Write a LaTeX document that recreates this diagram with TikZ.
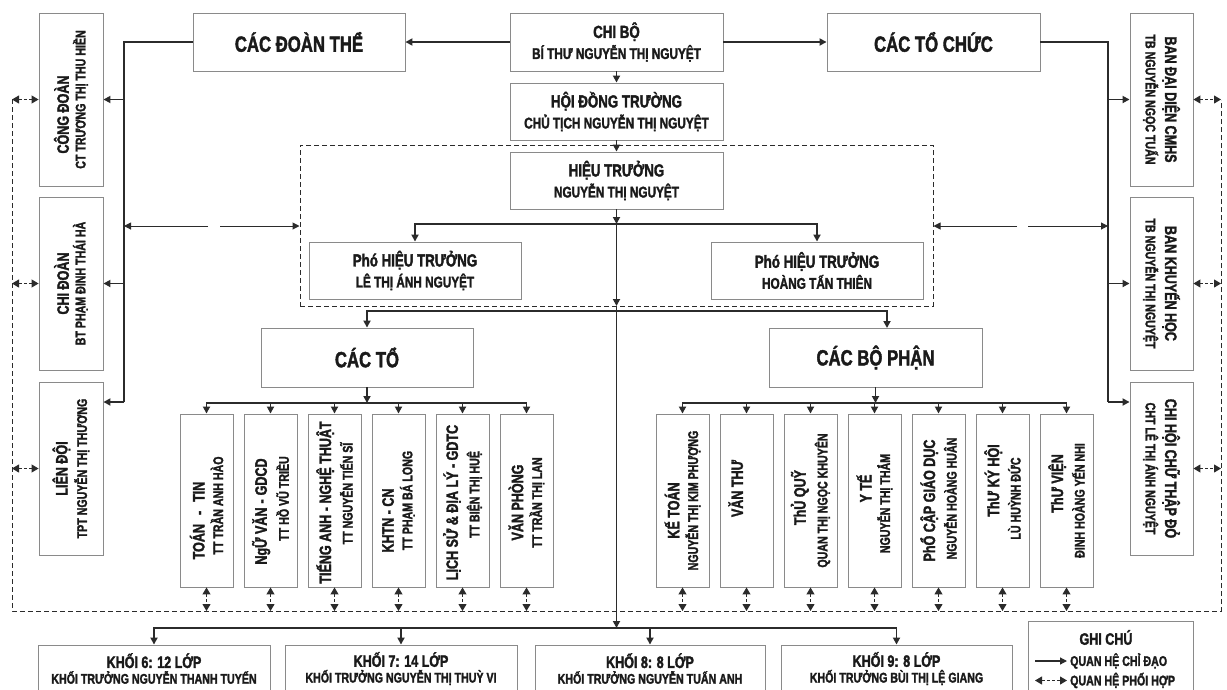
\documentclass[tikz,border=0pt]{standalone}
\usepackage{fontspec}
\setmainfont{Liberation Sans Bold}[FakeStretch=0.76, FakeBold=1.8]
\usetikzlibrary{arrows.meta}
\definecolor{ln}{HTML}{2B2B2B}
\definecolor{bx}{HTML}{8A8A8A}
\definecolor{tx}{HTML}{1A1A1A}
\tikzset{
 box/.style={draw=bx, line width=0.9pt, fill=white, inner sep=0pt, align=center, text=tx},
 conn/.style={draw=ln, line width=1.7pt},
 arr/.style={conn, -{Triangle[length=7pt,width=7pt]}},
 coop/.style={draw=ln, line width=1pt, dash pattern=on 3pt off 2pt, {Triangle[length=7pt,width=8pt]}-{Triangle[length=7pt,width=8pt]}},
 dsh/.style={draw=ln, line width=1pt, dash pattern=on 5pt off 3pt},
 thinarr/.style={draw=ln, line width=1pt, -{Triangle[length=7pt,width=7pt]}},
 lbox/.style={box, rotate=90, minimum width=173, minimum height=64},
 rbox/.style={box, rotate=-90, minimum width=173, minimum height=63},
 sbox/.style={box, rotate=90, minimum width=173, minimum height=53},
 kbox/.style={box, minimum width=232, minimum height=47},
 ltxt/.style={text=tx, inner sep=0pt},
}
\newcommand{\zzA}[1]{{\fontsize{22}{24}\selectfont #1}}
\newcommand{\zzB}[1]{{\fontsize{17.5}{20}\selectfont #1}}
\newcommand{\zzC}[1]{{\fontsize{15.5}{18}\selectfont #1}}
\newcommand{\zzD}[1]{{\fontsize{16.5}{18}\selectfont #1}}
\newcommand{\zzE}[1]{{\fontsize{14}{16}\selectfont #1}}
% shift a line along its own direction (positive: towards its start)
\newcommand{\zsh}[2]{\hbox{\kern-#1pt#2\kern#1pt}}
\begin{document}
\begin{tikzpicture}[x=1pt,y=-1pt]
\useasboundingbox[fill=white] (0,0) rectangle (1227,689);
% management dashed frame
\node[draw=ln, line width=1pt, dash pattern=on 5pt off 3pt, minimum width=633, minimum height=161, inner sep=0pt] (mgmt) at (616.5,225.5) {};
% top row
\node[box, minimum width=212, minimum height=58] (doanthe) at (299,42) {\zzA{CÁC ĐOÀN THỂ}};
\node[box, minimum width=213, minimum height=58] (chibo) at (616.5,42) {\zzB{CHI BỘ}\\[3pt]\zzC{BÍ THƯ NGUYỄN THỊ NGUYỆT}};
\node[box, minimum width=213, minimum height=58] (tochuc) at (933.5,42) {\zzA{CÁC TỔ CHỨC}};
\node[box, minimum width=213, minimum height=57] (hdt) at (616.5,111.5) {\zzB{HỘI ĐỒNG TRƯỜNG}\\[3pt]\zzC{CHỦ TỊCH NGUYỄN THỊ NGUYỆT}};
\node[box, minimum width=213, minimum height=57] (ht) at (616.5,180.5) {\zzB{HIỆU TRƯỞNG}\\[3pt]\zzC{NGUYỄN THỊ NGUYỆT}};
\node[box, minimum width=212, minimum height=57] (pht1) at (415,270.5) {\zzB{Phó HIỆU TRƯỞNG}\\[3pt]\zzC{LÊ THỊ ÁNH NGUYỆT}};
\node[box, minimum width=212, minimum height=57] (pht2) at (817,270.5) {\zzB{Phó HIỆU TRƯỞNG}\\[3pt]\zzC{HOÀNG TẤN THIÊN}};
\node[box, minimum width=212, minimum height=59] (cacto) at (367,357.5) {\zzA{CÁC TỔ}};
\node[box, minimum width=213, minimum height=59] (cacbp) at (875.5,357.5) {\zzA{CÁC BỘ PHẬN}};
% left column
\node[lbox] (cd) at (71,99.5) {\zsh{15}{\zzD{CÔNG ĐOÀN}}\\[3pt]\zzE{CT TRƯƠNG THỊ THU HIỀN}};
\node[lbox] (chidoan) at (71,283.5) {\zzD{CHI ĐOÀN}\\[3pt]\zzE{BT PHẠM ĐINH THÁI HÀ}};
\node[lbox] (ld) at (71,468.5) {\zzD{LIÊN ĐỘI}\\[3pt]\zzE{TPT NGUYỄN THỊ THƯƠNG}};
% right column
\node[rbox] (bdd) at (1161.5,99.5) {\zzD{BAN ĐẠI DIỆN CMHS}\\[3pt]\zzE{TB NGUYỄN NGỌC TUẤN}};
\node[rbox] (bkh) at (1161.5,283.5) {\zzD{BAN KHUYẾN HỌC}\\[3pt]\zzE{TB NGUYỄN THỊ NGUYỆT}};
\node[rbox] (chthd) at (1161.5,468.5) {\zzD{CHI HỘI CHỮ THẬP ĐỎ}\\[3pt]\zzE{CHT LÊ THỊ ÁNH NGUYỆT}};
% to (departments)
\node[sbox] (t1) at (206.5,500.5) {\zsh{20}{\zzD{TOÁN\hspace{9pt}-\hspace{9pt}TIN}}\\[5pt]\zsh{5}{\zzE{TT TRẦN ANH HÀO}}};
\node[sbox] (t2) at (270.5,500.5) {\zsh{11}{\zzD{NgỮ VĂN\hspace{4pt}-\hspace{4pt}GDCD}}\\[5pt]\zsh{-2}{\zzE{TT HỒ VŨ TRIỀU}}};
\node[sbox] (t3) at (334.5,500.5) {\zsh{2}{\zzD{TIẾNG ANH - NGHỆ THUẬT}}\\[5pt]\zsh{-7}{\zzE{TT NGUYỄN TIẾN SĨ}}};
\node[sbox] (t4) at (398.5,500.5) {\zsh{20}{\zzD{KHTN - CN}}\\[5pt]\zzE{TT PHẠM BÁ LONG}};
\node[sbox] (t5) at (462.5,500.5) {\zsh{2}{\zzD{LỊCH SỬ \& ĐỊA LÝ - GDTC}}\\[5pt]\zsh{-6}{\zzE{TT BIỆN THỊ HUỆ}}};
\node[sbox] (t6) at (526.5,500.5) {\zsh{2}{\zzD{VĂN PHÒNG}}\\[5pt]\zsh{2}{\zzE{TT TRẦN THỊ LAN}}};
% bo phan
\node[sbox] (b1) at (682.5,500.5) {\zsh{10}{\zzD{KẾ TOÁN}}\\[5pt]\zzE{NGUYỄN THỊ KIM PHƯỢNG}};
\node[sbox] (b2) at (746.5,500.5) {\zsh{-12}{\zzD{VĂN THƯ}}\\[5pt]\zzE{\strut}};
\node[sbox] (b3) at (810.5,500.5) {\zsh{-3}{\zzD{ThỦ QUỸ}}\\[5pt]\zzE{QUAN THỊ NGỌC KHUYÊN}};
\node[sbox] (b4) at (874.5,500.5) {\zsh{-12}{\zzD{Y TẾ}}\\[5pt]\zsh{3}{\zzE{NGUYỄN THỊ THẮM}}};
\node[sbox] (b5) at (938.5,500.5) {\zzD{PhỔ CẬP GIÁO DỤC}\\[5pt]\zsh{-2}{\zzE{NGUYỄN HOÀNG HUÂN}}};
\node[sbox] (b6) at (1002.5,500.5) {\zsh{-20}{\zzD{ThƯ KÝ HỘI}}\\[5pt]\zsh{-2}{\zzE{LÙ HUỲNH ĐỨC}}};
\node[sbox] (b7) at (1066.5,500.5) {\zsh{-17}{\zzD{ThƯ VIỆN}}\\[5pt]\zzE{ĐINH HOÀNG YẾN NHI}};
% khoi
\node[kbox] (k6) at (154,668.5) {\zzD{KHỐI 6: 12 LỚP}\\[2pt]\zzE{KHỐI TRƯỞNG NGUYỄN THANH TUYẾN}};
\node[kbox] (k7) at (401,668.5) {\zzD{KHỐI 7: 14 LỚP}\\[2pt]\zzE{KHỐI TRƯỞNG NGUYỄN THỊ THUỲ VI}};
\node[kbox, minimum width=230] (k8) at (650,668.5) {\zzD{KHỐI 8: 8 LỚP}\\[2pt]\zzE{KHỐI TRƯỞNG NGUYỄN TUẤN ANH}};
\node[kbox, minimum width=231] (k9) at (896.5,668.5) {\zzD{KHỐI 9: 8 LỚP}\\[2pt]\zzE{KHỐI TRƯỞNG BÙI THỊ LỆ GIANG}};
% legend
\node[box, minimum width=165, minimum height=80] (leg) at (1110.5,661) {};
\node[ltxt] (legt) at (1106,637.5) {\zzD{GHI CHÚ}};
\coordinate (la1) at (1035,661); \coordinate (la2) at (1067,661);
\coordinate (lb1) at (1035,680.5); \coordinate (lb2) at (1067,680.5);
\node[ltxt, anchor=west] (lt1) at (1070,661) {\zzE{QUAN HỆ CHỈ ĐẠO}};
\node[ltxt, anchor=west] (lt2) at (1070,680.5) {\zzE{QUAN HỆ PHỐI HỢP}};
\draw[arr, line width=1.2pt] (la1) -- (la2);
\draw[coop] (lb1) -- (lb2);
% coordinates
\coordinate (lb) at (124,402);
\coordinate (rb) at (1108,402);
\coordinate (otl) at (12,99);
\coordinate (obl) at (12,611);
\coordinate (obr) at (1221,611);
\coordinate (otr) at (1221,100);
\coordinate (j1) at (616.5,224);
\coordinate (j2) at (616.5,306);
\coordinate (j2b) at (616.5,311);
\coordinate (j3) at (616.5,628);
\coordinate (bpin) at (887,328);
\coordinate (tb) at (367,403);
\coordinate (bb) at (875.5,403);
\coordinate (lg1) at (208,226); \coordinate (lg2) at (220,226);
\coordinate (rg1) at (1017,226); \coordinate (rg2) at (1028,226);
% top connectors
\draw[arr] (chibo.west) -- (doanthe.east);
\draw[arr] (chibo.east) -- (tochuc.west);
\draw[arr] (chibo.south) -- (hdt.north);
\draw[arr] (hdt.south) -- (ht.north);
% left bus
\draw[conn] (doanthe.west) -| (lb);
\draw[arr] (lb) -- (lb -| ld.south);
\draw[arr] (cd.south -| lb) -- (cd.south);
\draw[arr] (chidoan.south -| lb) -- (chidoan.south);
% right bus
\draw[conn] (tochuc.east) -| (rb);
\draw[arr] (rb) -- (rb -| chthd.south);
\draw[arr] (bdd.south -| rb) -- (bdd.south);
\draw[arr] (bkh.south -| rb) -- (bkh.south);
% broken coordination arrows
\draw[thinarr] (lg1) -- (lg1 -| lb);
\draw[thinarr] (lg2) -- (lg2 -| mgmt.west);
\draw[thinarr] (rg1) -- (rg1 -| mgmt.east);
\draw[thinarr] (rg2) -- (rg2 -| rb);
% main spine
\draw[arr] (ht.south) -- (j1);
\draw[arr] (j1) -- (j2);
\draw[arr] (j2) -- (j3);
\draw[arr] (j1) -| (pht1.north);
\draw[arr] (j1) -| (pht2.north);
\draw[arr] (j2b) -| (cacto.north);
\draw[arr] (j2b) -| (bpin);
% khoi
\draw[arr] (j3) -| (k6.north);
\draw[arr] (j3) -| (k7.north);
\draw[arr] (j3) -| (k8.north);
\draw[arr] (j3) -| (k9.north);
% to
\draw[arr] (cacto.south) -- (tb);
\foreach \n in {t1,t2,t3,t4,t5,t6} {\draw[arr] (tb) -| (\n.east);}
\draw[arr] (cacbp.south) -- (bb);
\foreach \n in {b1,b2,b3,b4,b5,b6,b7} {\draw[arr] (bb) -| (\n.east);}
% outer coordination loop
\draw[dsh] (otl) -- (obl) -- (obr) -- (otr);
\foreach \n in {t1,t2,t3,t4,t5,t6,b1,b2,b3,b4,b5,b6,b7} {\draw[coop] (\n.west) -- (\n.west |- obl);}
\foreach \n in {cd,chidoan,ld} {\draw[coop] (\n.north -| otl) -- (\n.north);}
\foreach \n in {bdd,bkh,chthd} {\draw[coop] (\n.north) -- (\n.north -| otr);}
\end{tikzpicture}
\end{document}
